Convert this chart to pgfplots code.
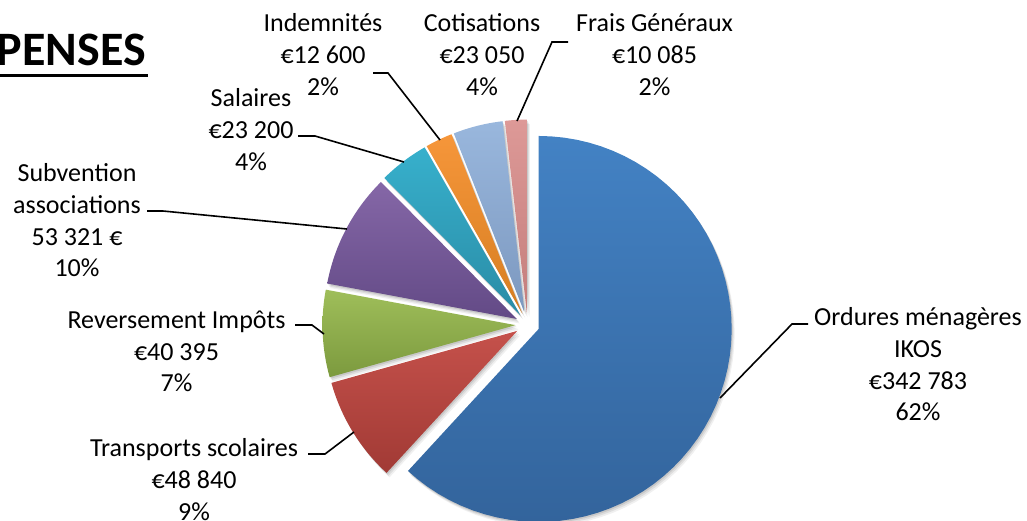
\documentclass[border=0pt]{standalone}
\usepackage{fontspec}
\setmainfont{Carlito}
\usepackage{pgfplots}
\pgfplotsset{compat=1.18}
\usepackage{pgfplotstable}

% slice colours (top / bottom of the gradient)
\definecolor{ct0}{HTML}{4382C4}\definecolor{cb0}{HTML}{33649C}
\definecolor{ct1}{HTML}{C5514B}\definecolor{cb1}{HTML}{A13A35}
\definecolor{ct2}{HTML}{9FBE5A}\definecolor{cb2}{HTML}{7C9A3E}
\definecolor{ct3}{HTML}{8567A7}\definecolor{cb3}{HTML}{634A86}
\definecolor{ct4}{HTML}{37B0CC}\definecolor{cb4}{HTML}{2A8CA6}
\definecolor{ct5}{HTML}{F6963A}\definecolor{cb5}{HTML}{D67E22}
\definecolor{ct6}{HTML}{99B7DD}\definecolor{cb6}{HTML}{7C98BF}
\definecolor{ct7}{HTML}{DD9997}\definecolor{cb7}{HTML}{C47E7C}

% D\'epenses (EUR), clockwise from 12 o'clock
\pgfplotstableread{
v
342783
48840
40395
53321
23200
12600
23050
10085
}\pietable

\def\cum{0}
\pgfplotsforeachungrouped \i in {0,...,7}{%
  \pgfplotstablegetelem{\i}{v}\of\pietable
  \edef\cumnew{\fpeval{\cum+\pgfplotsretval}}%
  \expandafter\edef\csname s\i\endcsname{\cum}%
  \expandafter\edef\csname e\i\endcsname{\cumnew}%
  \let\cum\cumnew
}
\let\tot\cum
\pgfplotsforeachungrouped \i in {0,...,7}{%
  \expandafter\edef\csname aS\i\endcsname{\fpeval{round(90-360*\csname s\i\endcsname/\tot,4)}}%
  \expandafter\edef\csname aE\i\endcsname{\fpeval{round(90-360*\csname e\i\endcsname/\tot,4)}}%
  \expandafter\edef\csname aM\i\endcsname{\fpeval{round(90-180*(\csname s\i\endcsname+\csname e\i\endcsname)/\tot,4)}}%
}

\def\cx{527.5}\def\cy{324.6}\def\R{193}\def\ex{12}

% #1 = slice index, #2 = fill options
\newcommand\pieslice[2]{%
  \edef\tmpA{\csname aS#1\endcsname}%
  \edef\tmpB{\csname aE#1\endcsname}%
  \edef\tmpM{\csname aM#1\endcsname}%
  \edef\tmp{\noexpand\addplot[draw=none, #2,
      samples at={0,...,61}, variable=\noexpand\k]
     ({\cx+\ex*cos(\tmpM)+((\noexpand\k<0.5||\noexpand\k>60.5)?0:\R)*cos((\tmpA)+(\noexpand\k-1)*((\tmpB)-(\tmpA))/59)},
      {\cy-\ex*sin(\tmpM)-((\noexpand\k<0.5||\noexpand\k>60.5)?0:\R)*sin((\tmpA)+(\noexpand\k-1)*((\tmpB)-(\tmpA))/59)});}%
  \tmp
}

\newcommand\lbl[3]{\node[anchor=base, inner sep=0pt, font=\fontsize{26}{31.7}\selectfont]
  at (axis cs:#1,#2) {\begin{tabular}[t]{@{}c@{}}#3\end{tabular}};}

\begin{document}
\begin{tikzpicture}
\useasboundingbox (0,0) rectangle (1027pt,520pt);
\clip (0,0) rectangle (1027pt,520pt);
\begin{axis}[at={(0,0)}, anchor=south west, scale only axis,
  width=1027pt, height=520pt, xmin=0, xmax=1027, ymin=0, ymax=520,
  y dir=reverse, hide axis, clip=false]
% soft drop shadow
\foreach \s in {0,1,2,3,4,5,6,7}{
  \pieslice{\s}{fill=black, fill opacity=0.10, xshift=1pt, yshift=-1.5pt}
  \pieslice{\s}{fill=black, fill opacity=0.08, xshift=2pt, yshift=-3pt}
  \pieslice{\s}{fill=black, fill opacity=0.06, xshift=3pt, yshift=-4.5pt}
}
\pieslice{0}{top color=ct0, bottom color=cb0}
\pieslice{1}{top color=ct1, bottom color=cb1}
\pieslice{2}{top color=ct2, bottom color=cb2}
\pieslice{3}{top color=ct3, bottom color=cb3}
\pieslice{4}{top color=ct4, bottom color=cb4}
\pieslice{5}{top color=ct5, bottom color=cb5}
\pieslice{6}{top color=ct6, bottom color=cb6}
\pieslice{7}{top color=ct7, bottom color=cb7}

\begin{scope}[line width=1.6pt]
\draw (axis cs:373,73) -- (axis cs:388,73) -- (axis cs:440,140);
\draw (axis cs:568,42) -- (axis cs:552,42) -- (axis cs:517,121);
\draw (axis cs:298,136) -- (axis cs:315,136) -- (axis cs:404,162);
\draw (axis cs:147,211) -- (axis cs:163,211) -- (axis cs:347,229);
\draw (axis cs:295,325) -- (axis cs:312,325) -- (axis cs:324,334);
\draw (axis cs:308,454) -- (axis cs:325,454) -- (axis cs:354,432);
\draw (axis cs:808,324) -- (axis cs:792,324) -- (axis cs:720,398);
\end{scope}

\lbl{323}{31.7}{Indemnités\\€12 600\\2\%}
\lbl{482}{31.7}{Cotisations\\€23 050\\4\%}
\lbl{654.5}{31.7}{Frais Généraux\\€10 085\\2\%}
\lbl{251}{106.7}{Salaires\\€23 200\\4\%}
\lbl{77}{181.7}{Subvention\\associations\\53 321 €\\10\%}
\lbl{176.5}{328.3}{Reversement Impôts\\€40 395\\7\%}
\lbl{194}{456.7}{Transports scolaires\\€48 840\\9\%}
\lbl{918}{325.7}{Ordures ménagères\\IKOS\\€342 783\\62\%}

\node[anchor=base east, inner sep=0pt, font=\bfseries\fontsize{48}{50}\selectfont]
  at (axis cs:146,65) {DÉPENSES};
\draw[line width=3.3pt] (axis cs:-60,75.7) -- (axis cs:147.7,75.7);
\end{axis}
\end{tikzpicture}
\end{document}
